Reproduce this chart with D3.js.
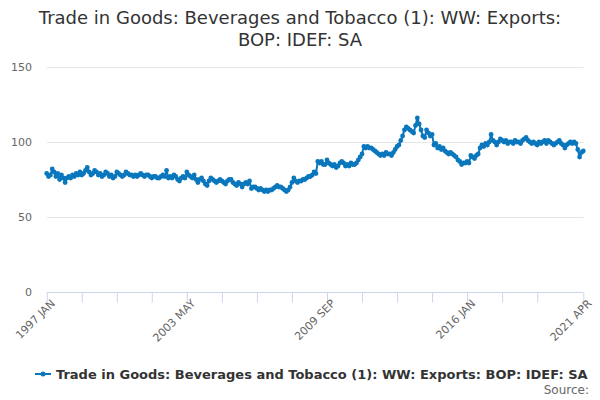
<!DOCTYPE html>
<html>
<head>
<meta charset="utf-8">
<script src="https://cdn.jsdelivr.net/npm/d3@7/dist/d3.min.js"></script>
<style>
  html, body { margin: 0; padding: 0; background: #fff; }
  svg { display: block; font-family: "DejaVu Sans", sans-serif; }
</style>
</head>
<body>
<svg id="chart" width="600" height="400"></svg>
<script>
const titleLines = ["Trade in Goods: Beverages and Tobacco (1): WW: Exports:", "BOP: IDEF: SA"];
const seriesName = "Trade in Goods: Beverages and Tobacco (1): WW: Exports: BOP: IDEF: SA";
const monthNames = ["JAN","FEB","MAR","APR","MAY","JUN","JUL","AUG","SEP","OCT","NOV","DEC"];
const startYear = 1997;
const yTicks = [0, 50, 100, 150];
const labelIndices = [0, 76, 152, 228, 291];
const tickIndices = [0,19,38,57,76,95,114,133,152,171,190,209,228,247,266,291];

const values = [
  79, 77, 78, 82, 80, 77, 79, 75, 78, 76, 73, 76,
  77, 76, 78, 77, 79, 78, 80, 78, 79, 81, 83, 80,
  78, 79, 81, 80, 78, 79, 77, 78, 80, 79, 77, 78,
  76, 77, 80, 79, 78, 77, 78, 80, 79, 78, 78, 77,
  78, 77, 78, 79, 78, 77, 78, 78, 77, 76, 77, 77,
  76, 76, 77, 78, 77, 81, 76, 77, 76, 78, 77, 75,
  74, 76, 77, 76, 80, 78, 77, 76, 78, 75, 73, 75,
  76, 74, 72, 71, 74, 76, 75, 74, 73, 74, 75, 74,
  73, 72, 74, 75, 75, 73, 72, 71, 73, 72, 70, 72,
  73, 72, 74, 69, 70, 70, 69, 68, 69, 68, 67, 68,
  67, 68, 68, 69, 70, 71, 70, 70, 69, 68, 67, 68,
  70, 73, 76, 74, 73, 74, 74, 75, 75, 76, 77, 77,
  78, 80, 79, 87, 86, 87, 85, 85, 88, 86, 85, 84,
  85, 83, 84, 86, 87, 86, 84, 85, 84, 86, 85, 85,
  86, 88, 90, 92, 97, 96, 97, 96, 96, 95, 94, 93,
  92, 91, 92, 91, 93, 92, 92, 91, 93, 95, 97, 98,
  101, 104, 108, 110, 109, 108, 107, 106, 111, 116, 112, 108,
  104, 103, 108, 106, 104, 105, 98, 99, 96, 97, 95, 96,
  94, 93, 92, 93, 92, 91, 90, 88, 87, 85, 86, 86,
  87, 86, 91, 90, 89, 91, 92, 96, 98, 97, 99, 98,
  100, 105, 101, 100, 98, 100, 102, 101, 100, 101, 99, 100,
  100, 99, 101, 100, 100, 99, 101, 102, 103, 101, 100, 99,
  100, 99, 98, 100, 99, 100, 101, 99, 101, 100, 99, 98,
  99, 100, 101, 99, 98, 96, 98, 99, 100, 99, 100, 99,
  95, 90, 93, 94
];

const categories = values.map((_, i) => (startYear + Math.floor(i / 12)) + " " + monthNames[i % 12]);

const color = "#0a77bd";
const svg = d3.select("#chart");
const margin = { left: 46.7, right: 16.7, top: 67, bottom: 108 };
const W = 600, H = 400;

const x = d3.scalePoint().domain(d3.range(values.length)).range([margin.left, W - margin.right]);
const y = d3.scaleLinear().domain([0, 150]).range([H - margin.bottom, margin.top]);

// title
svg.append("g").selectAll("text").data(titleLines).join("text")
  .attr("x", 300).attr("y", (d, i) => 24 + i * 22)
  .attr("text-anchor", "middle")
  .attr("font-size", 18).attr("fill", "#333")
  .text(d => d);

// grid
svg.append("g").selectAll("line").data(yTicks.filter(t => t > 0)).join("line")
  .attr("x1", margin.left).attr("x2", W - margin.right + 0.3)
  .attr("y1", d => Math.round(y(d)) + 0.5).attr("y2", d => Math.round(y(d)) + 0.5)
  .attr("stroke", "#e6e6e6").attr("stroke-width", 1);

// y labels
svg.append("g").selectAll("text").data(yTicks).join("text")
  .attr("x", 32).attr("y", d => y(d) + 4)
  .attr("text-anchor", "end")
  .attr("font-size", 11).attr("fill", "#666")
  .text(d => d);

// x axis
const xAxis = d3.axisBottom(x)
  .tickValues(tickIndices)
  .tickSize(10)
  .tickFormat(i => labelIndices.includes(i) ? categories[i] : "");
const gx = svg.append("g").attr("transform", `translate(0,${Math.round(y(0)) + 0.5})`).call(xAxis);
gx.select(".domain").attr("stroke", "#ccd6eb").attr("d", `M${margin.left},0H${W - margin.right}`);
gx.selectAll(".tick line").attr("stroke", "#ccd6eb");
gx.selectAll(".tick text")
  .attr("font-family", "DejaVu Sans, sans-serif")
  .attr("font-size", 11).attr("fill", "#666")
  .attr("text-anchor", "end")
  .attr("transform", "translate(3,6) rotate(-45)")
  .attr("dy", "0.35em").attr("y", 4).attr("x", 0);

// line
const line = d3.line().x((d, i) => x(i)).y(d => y(d));
svg.append("path").datum(values)
  .attr("fill", "none").attr("stroke", color).attr("stroke-width", 2)
  .attr("stroke-linejoin", "round")
  .attr("d", line);
svg.append("g").selectAll("circle").data(values).join("circle")
  .attr("cx", (d, i) => x(i)).attr("cy", d => y(d)).attr("r", 2.4)
  .attr("fill", color);

// legend
const lg = svg.append("g").attr("transform", "translate(0,374)");
lg.append("line").attr("x1", 35).attr("x2", 51).attr("y1", 0).attr("y2", 0)
  .attr("stroke", color).attr("stroke-width", 2);
lg.append("circle").attr("cx", 43).attr("cy", 0).attr("r", 2.5).attr("fill", color);
lg.append("text").attr("x", 56).attr("y", 4.5)
  .attr("font-size", 13).attr("font-weight", "bold").attr("fill", "#333")
  .text(seriesName);

svg.append("text").attr("x", 589).attr("y", 394)
  .attr("text-anchor", "end").attr("font-size", 12).attr("fill", "#666")
  .text("Source:");
</script>
</body>
</html>
